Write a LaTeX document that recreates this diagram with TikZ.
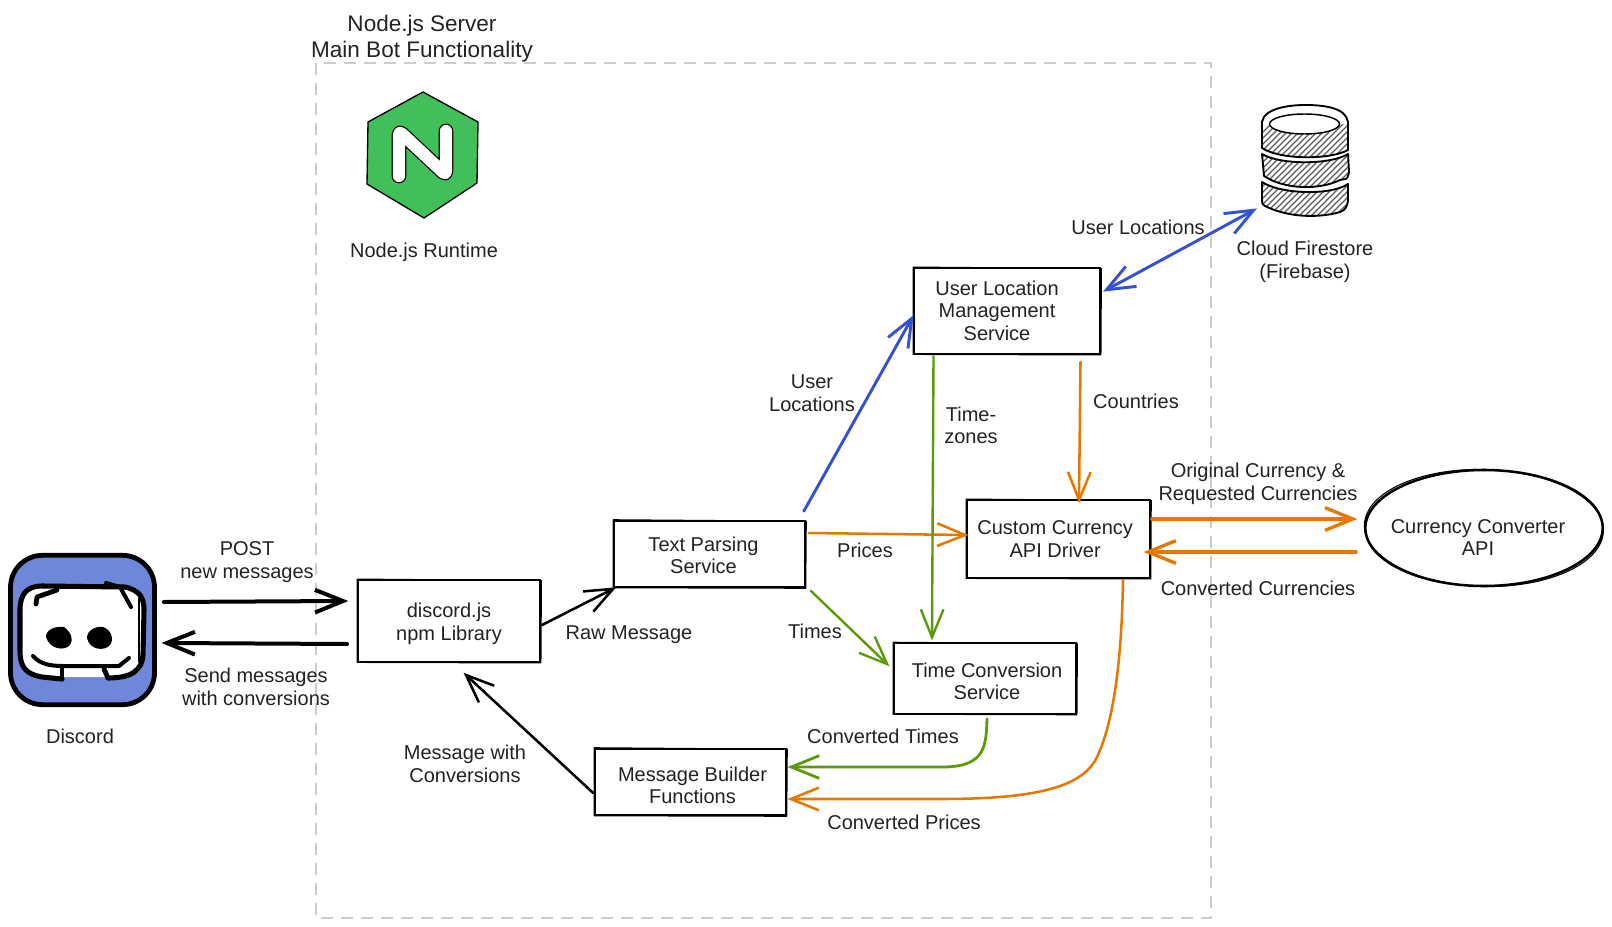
\documentclass[tikz,border=0pt]{standalone}
\usepackage{fontspec}
\setmainfont{Liberation Sans}
\usetikzlibrary{arrows.meta,calc,shapes.geometric}
\definecolor{txt}{HTML}{222222}
\definecolor{orng}{HTML}{E67800}
\definecolor{grn}{HTML}{5A9A0C}
\definecolor{blu}{HTML}{3551D1}
\definecolor{dashc}{HTML}{CCCCCC}
\definecolor{ngx}{HTML}{41BF5A}
\definecolor{dsc}{HTML}{6F87D8}
\newcommand{\boxtext}[3]{\hspace*{#1}\raisebox{#2}[0pt][0pt]{\begin{tabular}{@{}c@{}}#3\end{tabular}}}
\tikzset{
 x=0.75pt,y=-0.75pt,
 lbl/.style={font=\fontsize{15}{17}\selectfont,text=txt,align=center,inner sep=0pt},
 box/.style={draw=black,line width=1.7pt,fill=white,inner sep=0pt,outer sep=0pt,font=\fontsize{15}{17}\selectfont,text=txt,
   append after command={
     [every path/.style={}]
     \pgfextra{\draw[black,line width=.7pt,line join=round]
       ([shift={(-1,-1)}]\tikzlastnode.north west) -- ([shift={(1.5,0.5)}]\tikzlastnode.north east)
       -- ([shift={(1,1)}]\tikzlastnode.south east) -- ([shift={(-1,0.5)}]\tikzlastnode.south west) -- cycle;}
   }},
 barb/.style={-{Straight Barb[length=21pt,width=17pt]}},
 wire/.style={barb,line cap=round,shorten >=-2.5pt},
 bk/.style={wire,draw=black,line width=1.9pt},
 bkh/.style={wire,draw=black,line width=3pt},
 orl/.style={wire,draw=orng,line width=1.9pt},
 orh/.style={wire,draw=orng,line width=2.5pt},
 grl/.style={wire,draw=grn,line width=1.8pt},
 bll/.style={wire,draw=blu,line width=2.2pt},
}
\begin{document}
\begin{tikzpicture}
\useasboundingbox (0,0) rectangle (1612,927);
% container
\draw[dashc,line width=1.6pt,dash pattern=on 9pt off 6pt] (316,63) rectangle (1211,918);
\node[lbl,font=\fontsize{16.9}{19.5}\selectfont] at (422,39) {Node.js Server\\Main Bot Functionality};
% nginx logo
\draw[fill=ngx,draw=black,line width=1pt,line join=round] (423,92)--(478,122)--(477,183)--(424,218)--(367,184)--(368,122)--cycle;
\draw[black,line width=11pt,line cap=round,line join=round,rounded corners=3pt] (399,176)--(399,131)--(446,175)--(446,131);
\draw[white,line width=9.2pt,line cap=round,line join=round,rounded corners=3pt] (399,176)--(399,131)--(446,175)--(446,131);
\node[lbl] at (424,252) {Node.js Runtime};
% database
\newcommand{\secA}{(1262,122) .. controls (1264,108) and (1290,105) .. (1305,105) .. controls (1325,105) and (1346,108) .. (1348,122) -- (1348,150) .. controls (1330,160) and (1280,160) .. (1262,148) -- cycle}
\newcommand{\secB}{(1262,154) .. controls (1280,165) and (1330,165) .. (1348,154) -- (1349,172) .. controls (1347,182) and (1346,178) .. (1340,180) .. controls (1320,190) and (1285,190) .. (1264,176) -- cycle}
\newcommand{\secC}{(1262,182) .. controls (1280,194) and (1330,196) .. (1348,184) -- (1348,200) .. controls (1347,212) and (1340,212) .. (1332,214) .. controls (1310,218) and (1285,216) .. (1265,206) .. controls (1262,204) and (1262,203) .. (1262,200) -- cycle}
\begin{scope}
\clip \secA \secB \secC;
\foreach \i in {0,6,...,210} \draw[black!65,line width=0.9pt] (1170+\i,225)--(1170+\i+125,100);
\fill[white] (1255,100) rectangle (1355,124);
\end{scope}
\draw[black,line width=1.4pt,line join=round] \secA;
\draw[black,line width=1.4pt,line join=round] \secB;
\draw[black,line width=1.4pt,line join=round] \secC;
\draw[black,fill=white,line width=1.1pt] (1304.5,124) ellipse [x radius=35,y radius=10];
\node[lbl] at (1305,262) {Cloud Firestore\\(Firebase)};
\coordinate (dbtip) at (1254,210);
% discord
\node[draw=black,fill=dsc,line width=3.6pt,rounded corners=24pt,minimum width=108pt,minimum height=112pt,inner sep=0pt] (discord) at (82.5,630) {};
\path[fill=white] (19,610) .. controls (19,592) and (27,586) .. (40,586) -- (125,586) .. controls (138,586) and (144,592) .. (144,608) -- (144,655) .. controls (144,672) and (136,677) .. (120,677) -- (40,677) .. controls (26,677) and (19,670) .. (19,655) -- cycle;
\draw[black,line width=3.8pt,line cap=round,line join=round] (62,679) -- (42,677) .. controls (26,674) and (20,668) .. (20,650) -- (20,610) .. controls (20,594) and (27,586) .. (42,586) -- (125,587) .. controls (138,590) and (144,596) .. (144,610) -- (143,655) .. controls (142,670) and (132,678) .. (108,678);
\draw[black,line width=1.4pt] (139,598) -- (139,662);
\draw[black,line width=3.6pt,line cap=round,line join=round] (36,604) -- (37,597) -- (57,590);
\draw[black,line width=3pt,line cap=round,line join=round] (106,583) -- (120,587) -- (131,607);
\draw[black,line width=3pt,line cap=round,line join=round] (33,656) .. controls (40,664) and (50,666) .. (63,666) -- (119,666) -- (129,658);
\draw[black,line width=3.6pt,line cap=round] (62,667) -- (62,679);
\draw[black,line width=3.6pt,line cap=round] (104,669) -- (108,678);
\fill[black] (46,637) .. controls (46,629) and (56,626) .. (64,627) .. controls (71,632) and (74,640) .. (70,645) .. controls (65,651) and (50,650) .. (46,637) -- cycle;
\fill[black] (87,638) .. controls (87,630) and (96,626) .. (103,627) .. controls (112,630) and (114,640) .. (110,645) .. controls (105,651) and (90,651) .. (87,638) -- cycle;
\node[lbl] at (80,736) {Discord};
% boxes
\node[box,minimum width=136.5pt,minimum height=61.5pt] (dj) at (449,621) {\boxtext{0pt}{-6.05pt}{discord.js\\npm Library}};
\node[box,minimum width=143pt,minimum height=50pt] (tp) at (709.5,554) {\boxtext{-9pt}{-6.45pt}{Text Parsing\\Service}};
\node[box,minimum width=143pt,minimum height=50pt] (mb) at (690.5,782) {\boxtext{3pt}{-7.95pt}{Message Builder\\Functions}};
\node[box,minimum width=136.5pt,minimum height=53pt] (tc) at (985,678.5) {\boxtext{3pt}{-7.65pt}{Time Conversion\\Service}};
\node[box,minimum width=137pt,minimum height=58.5pt] (cc) at (1058.5,539) {\boxtext{-5pt}{-5.25pt}{Custom Currency\\API Driver}};
\node[box,minimum width=139.5pt,minimum height=64.5pt] (ul) at (1007,311) {\boxtext{-15pt}{-5.25pt}{User Location\\Management\\Service}};
\node[draw=black,fill=white,ellipse,line width=1.9pt,inner sep=0pt,minimum width=178pt,minimum height=87pt,font=\fontsize{15}{17}\selectfont,text=txt] (ce) at (1484,528) {\boxtext{-9pt}{-12.65pt}{Currency Converter\\API}};
\draw[black,line width=.8pt,rotate around={-1.5:(ce.center)}] (ce.center) ellipse [x radius=119.5,y radius=58.5];
% connectors
\draw[bkh] ($(discord.east)+(7,-28)$) -- ($(dj.west)+(-13,-20)$);
\draw[bkh] ($(dj.west)+(-11,23)$) -- ($(discord.east)+(8,13)$);
\draw[bk] ($(dj.east)+(2,4)$) -- ($(tp.south west)+(-1,1.5)$);
\draw[bk] ($(mb.west)+(-2,11)$) -- ($(dj.south)+(17,13)$);
\draw[bll] ($(tp.north east)+(-1,-9.5)$) -- ($(ul.west)+(-2,7)$);
\draw[bll,shorten <=-2.5pt,{Straight Barb[length=21pt,width=17pt]}-{Straight Barb[length=21pt,width=17pt]}] ($(ul.east)+(6,-21)$) -- (dbtip);
\draw[orl] ($(tp.east)+(4,-21)$) -- ($(cc.west)+(-2,-4)$);
\draw[orl] ($(ul.south)+(73.5,8)$) -- ($(cc.north)+(20.5,0)$);
\draw[grl] ($(tp.south east)+(6,3.5)$) -- ($(tc.west)+(-7,-14.5)$);
\draw[grl] ($(ul.south)+(-73.5,2)$) -- ($(tc.north)+(-53,-6)$);
\draw[grl,line width=2.1pt] ($(tc.south)+(2,5)$) .. controls (986,745) and (986,766) .. (945,767) -- ($(mb.east)+(5,-15)$);
\draw[orl] ($(cc.south)+(64.5,2)$) .. controls (1122,640) and (1117,715) .. (1097,757) .. controls (1082,789) and (1030,799) .. (940,799) -- ($(mb.east)+(5,17)$);
\draw[orh] ($(cc.east)+(2,-20)$) -- ($(ce.west)+(-10,-9)$);
\draw[orh] ($(ce.west)+(-8,24)$) -- ($(cc.east)+(-3,13)$);
% labels
\node[lbl] at (247,562) {POST\\new messages};
\node[lbl] at (256,687) {Send messages\\with conversions};
\node[lbl] at (1138,227) {User Locations};
\node[lbl] at (812,393) {User\\Locations};
\node[lbl] at (971,425.5) {Time-\\zones};
\node[lbl] at (1136,401) {Countries};
\node[lbl] at (1258,483.5) {Original Currency \&\\Requested Currencies};
\node[lbl] at (1258,588) {Converted Currencies};
\node[lbl] at (865,550) {Prices};
\node[lbl] at (815,631) {Times};
\node[lbl] at (629,635) {Raw Message};
\node[lbl] at (465,764) {Message with\\Conversions};
\node[lbl] at (883,736) {Converted Times};
\node[lbl] at (904,822) {Converted Prices};
\end{tikzpicture}
\end{document}
